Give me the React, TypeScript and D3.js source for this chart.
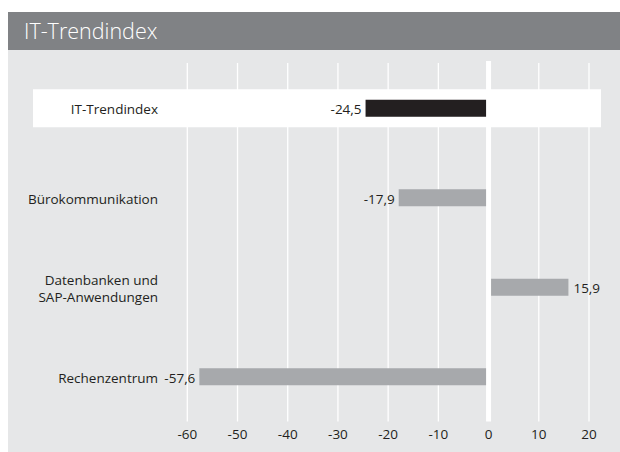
import React from "react";
import * as d3 from "d3";

const categories = ["IT-Trendindex", "Bürokommunikation", "Datenbanken und\nSAP-Anwendungen", "Rechenzentrum"];
const values = [-24.5, -17.9, 15.9, -57.6];
const highlight = [true, false, false, false];
const ticks = [-60, -50, -40, -30, -20, -10, 0, 10, 20];
const title = "IT-Trendindex";

const W = 620;
const H = 452;
const FONT = "'Open Sans', 'DejaVu Sans', sans-serif";

export default function App() {
  const x = d3.scaleLinear().domain([-60, 20]).range([187.3, 589]);
  const y = d3
    .scaleBand<string>()
    .domain(categories)
    .range([63.5, 421.5])
    .paddingInner(0.81)
    .paddingOuter(0.405);
  const bw = y.bandwidth();
  const fmt = (v: number) => d3.format(".1f")(v).replace("\u2212", "-").replace(".", ",");
  const zeroX = x(0);
  const gap = 2.5;

  return (
    <svg
      width={W}
      height={H}
      style={{ position: "absolute", left: 0, top: 0, background: "#fff" }}
      fontFamily={FONT}
    >
      <rect x={8} y={12} width={W - 8} height={H - 12} fill="#e6e7e8" />
      <rect x={8} y={12} width={W - 8} height={38} fill="#808285" />
      <text x={24} y={38.5} fill="#fff" fontSize={21.5} fontWeight={300}>
        {title}
      </text>
      {ticks
        .filter((t) => t !== 0)
        .map((t) => (
          <line key={t} x1={x(t)} x2={x(t)} y1={63} y2={421.5} stroke="#fff" strokeWidth={1.3} />
        ))}
      <rect x={zeroX - gap} y={61} width={gap * 2} height={421.5 - 61} fill="#fff" />
      {categories.map((c, i) =>
        highlight[i] ? (
          <rect key={"band" + c} x={33} y={y(c)! + bw / 2 - 19} width={601 - 33} height={38} fill="#fff" />
        ) : null
      )}
      {categories.map((c, i) => {
        const v = values[i];
        const cy = y(c)! + bw / 2;
        const x0 = v < 0 ? x(v) : zeroX + gap;
        const x1 = v < 0 ? zeroX - gap : x(v);
        const lines = c.split("\n");
        const lh = 17.5;
        return (
          <g key={c}>
            <rect x={x0} y={y(c)!} width={x1 - x0} height={bw} fill={highlight[i] ? "#231f20" : "#a7a9ac"} />
            <text
              x={v < 0 ? x0 - 4 : x1 + 5}
              y={cy + 6}
              textAnchor={v < 0 ? "end" : "start"}
              fontSize={13.5}
              fill="#231f20"
            >
              {fmt(v)}
            </text>
            <text x={158} textAnchor="end" fontSize={13.5} fill="#231f20">
              {lines.map((l, k) => (
                <tspan key={k} x={158} y={cy + 6 + (k - (lines.length - 1) / 2) * lh}>
                  {l}
                </tspan>
              ))}
            </text>
          </g>
        );
      })}
      {ticks.map((t) => (
        <text key={"t" + t} x={x(t)} y={439} textAnchor="middle" fontSize={13.5} fill="#231f20">
          {t}
        </text>
      ))}
    </svg>
  );
}
